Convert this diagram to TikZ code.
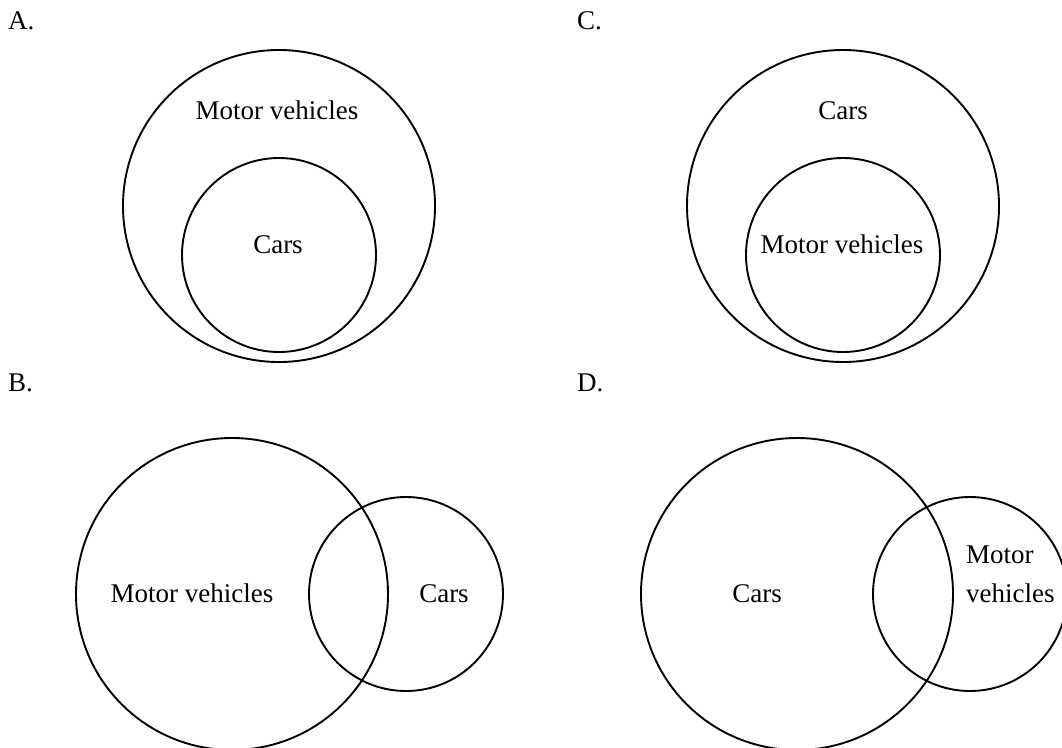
\documentclass[tikz,border=0pt]{standalone}
\usepackage{fontspec}
\setmainfont{Liberation Serif}
\usetikzlibrary{positioning}

\tikzset{
  set/.style={circle, draw, line width=1.9pt, inner sep=0pt},
  big/.style={set, minimum size=312pt},
  small/.style={set, minimum size=194pt},
  word/.style={inner sep=0pt, anchor=base},
  panel/.style={inner sep=0pt, anchor=base west}
}

\begin{document}
\begin{tikzpicture}[x=1pt, y=-1pt, font=\fontsize{27}{39}\selectfont]
            \useasboundingbox (0, 0) rectangle (1062, 747);
            % A: cars inside motor vehicles
            \node[panel] (labA) at (8, 29) {A.};
            \node[big] (bigA) at (279, 206) {};
            \node[small] (smallA) at (279, 255) {};
            \node[word] (mvA) at (277, 119) {Motor vehicles};
            \node[word] (carsA) at (278, 253) {Cars};
            % C: motor vehicles inside cars
            \node[panel] (labC) at (577, 29) {C.};
            \node[big] (bigC) at (843, 206) {};
            \node[small] (smallC) at (843, 255) {};
            \node[word] (carsC) at (843, 119) {Cars};
            \node[word] (mvC) at (842, 253) {Motor vehicles};
            % B: overlapping
            \node[panel] (labB) at (8, 391) {B.};
            \node[big] (bigB) at (232, 594) {};
            \node[small] (smallB) at (406, 594) {};
            \node[word] (mvB) at (192, 602) {Motor vehicles};
            \node[word] (carsB) at (444, 602) {Cars};
            % D: overlapping, swapped
            \node[panel] (labD) at (577, 391) {D.};
            \node[big] (bigD) at (797, 594) {};
            \node[small] (smallD) at (970, 594) {};
            \node[word] (carsD) at (757, 602) {Cars};
            \node[panel, align=left] (mvD) at (966, 602) {Motor\\vehicles};
        \end{tikzpicture}
\end{document}
